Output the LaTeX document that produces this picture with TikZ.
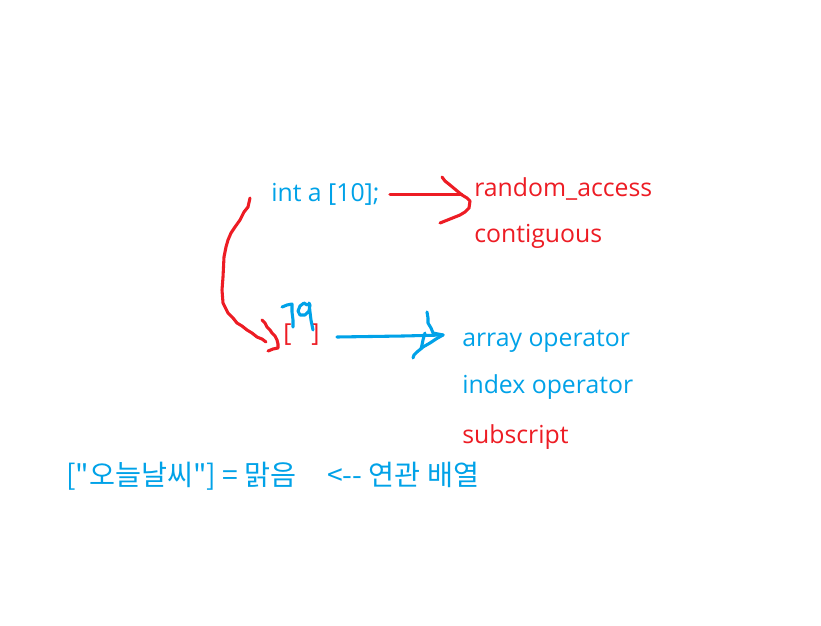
\documentclass[tikz,border=0pt]{standalone}
\usepackage{fontspec}
\setmainfont{Open Sans}
\newfontfamily\kr{Noto Sans CJK KR}
\definecolor{pblue}{RGB}{0,162,232}
\definecolor{pred}{RGB}{237,28,36}
\tikzset{
  lbl/.style={anchor=base west, inner sep=0pt, font=\fontsize{18.6pt}{20pt}\selectfont},
  ink/.style={line width=2.3pt, line cap=round, line join=round},
}
\begin{document}
\begin{tikzpicture}[x=0.75pt,y=-0.75pt]
\path[use as bounding box, fill=white] (0,0) rectangle (821,625);
% texts
\node[lbl, text=pblue] (decl) at (271,201.5) {int a [10];};
\node[lbl, text=pred] (ra) at (474,196.5) {random\_access};
\node[lbl, text=pred] (cont) at (474,242.5) {contiguous};
\node[lbl, text=pred] (br) at (283,341) {[\hspace{15pt}]};
\node[lbl, text=pblue] (ao) at (462,346.5) {array operator};
\node[lbl, text=pblue] (io) at (462,393) {index operator};
\node[lbl, text=pred] (sub) at (462,443.5) {subscript};
\node[lbl, text=pblue, font=\kr\fontsize{21.2pt}{23pt}\selectfont] (assoc) at (66,485) {["오늘날씨"] = 맑음\hspace{23pt}<-- 연관 배열};
% red curved arrow
\draw[ink, pred] plot coordinates {(250,198) (248,207) (244,212) (240,220) (235,227) (231,233) (228,240) (226,247) (224,257) (223,277) (222,290) (223,303) (228,313) (233,318) (237,323) (242,326) (247,330) (252,333) (257,337) (262,339) (266,342)};
\draw[ink, pred] plot coordinates {(262,320) (265,323) (267,327) (270,330) (272,333) (275,336) (277,340) (278,344) (278,348) (273,349) (268,351)};
% red straight arrow
\draw[ink, pred] (390,194.5) -- (462,194.5);
\draw[ink, pred] plot coordinates {(442,177) (445,181) (450,185) (456,190) (462,195) (467,198) (470,201) (469,208) (465,212) (460,215) (450,219) (440,223)};
% blue handwritten 10
\draw[ink, pblue] plot coordinates {(282,307) (287,305) (292,304) (292,312) (293,320) (293,327)};
\draw[ink, pblue] plot coordinates {(307,305) (304,303) (300,306) (298,311) (300,315) (305,315) (309,311) (310,305) (309,303) (310,312) (311,320) (313,330)};
% blue arrow
\draw[ink, pblue] (337,337) -- (403,336) -- (443,335);
\draw[ink, pblue] plot coordinates {(427,312) (428,318) (428,323) (431,328) (433,333) (438,334) (443,335) (436,339) (430,343) (423,347) (417,352) (414,355) (413,358)};
\draw[ink, pblue] plot coordinates {(425,333) (423,340) (422,345) (421,349)};
\end{tikzpicture}
\end{document}
